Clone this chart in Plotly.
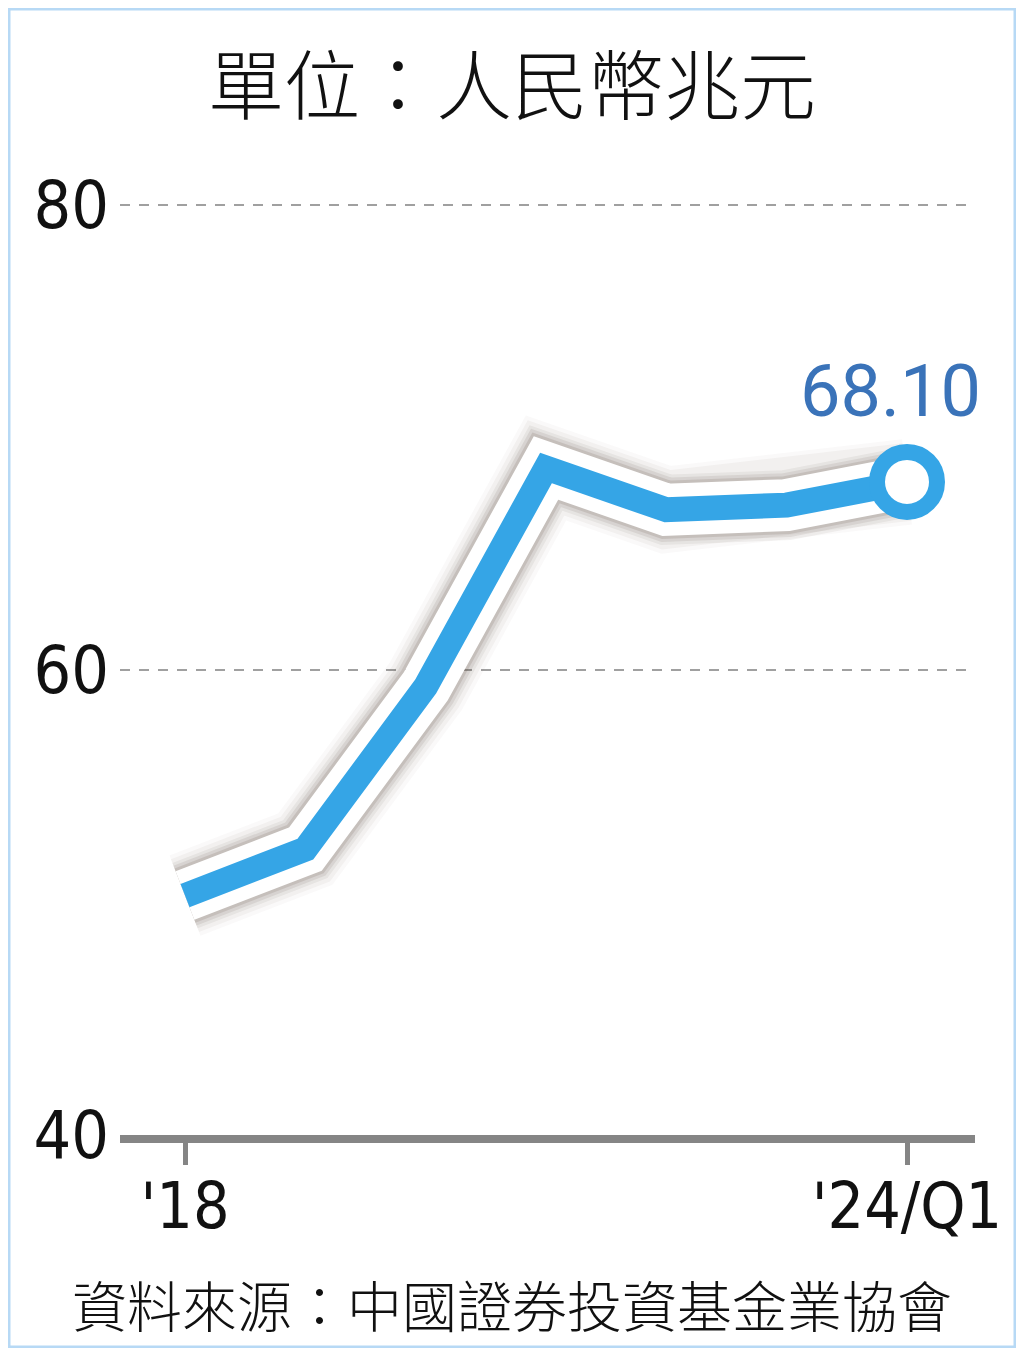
import plotly.graph_objects as go

# 中國資產管理規模（人民幣兆元）
periods = ["2018", "2019", "2020", "2021", "2022", "2023", "2024Q1"]
values = [50.3, 52.3, 59.3, 68.7, 66.9, 67.1, 68.10]
tick_text = ["'18", "'24/Q1"]

# page has an 8px body margin, so work in figure coords = reference - 8
W, H = 1008, 1340
y80, y40 = 197, 1127
px_per = (y40 - y80) / 40
top_pad = 0.1
T = round(y80 - top_pad * px_per)
B = H - y40
L = 112
R = W - 967
pw, ph = W - L - R, H - T - B

xs = list(range(len(periods)))
blue = "#35a5e6"


def py(y):
    # figure pixel row -> paper coordinate
    return (T + ph - y) / ph


def px(x):
    return (x - L) / pw


fig = go.Figure()

# soft shadow under the white outline
for w, a in [(86, 0.03), (78, 0.05), (70, 0.07), (64, 0.10), (58, 0.14)]:
    fig.add_trace(go.Scatter(x=xs, y=values, mode="lines", hoverinfo="skip",
                             line=dict(color=f"rgba(90,70,60,{a})", width=w),
                             showlegend=False))

# white outline
fig.add_trace(go.Scatter(x=xs, y=values, mode="lines", hoverinfo="skip",
                         line=dict(color="white", width=52), showlegend=False))

# main line
fig.add_trace(go.Scatter(x=xs, y=values, mode="lines",
                         line=dict(color=blue, width=25), showlegend=False))

# end point marker
fig.add_trace(go.Scatter(x=[xs[-1]], y=[values[-1]], mode="markers",
                         marker=dict(size=60, color="white",
                                     line=dict(color=blue, width=16)),
                         showlegend=False))

fig.add_annotation(x=xs[-1], y=values[-1], text=f"{values[-1]:.2f}",
                   showarrow=False, xshift=-17, yshift=90,
                   font=dict(family="Roboto, Liberation Sans", size=72, color="#3a73b9"))

# title / source
fig.add_annotation(xref="paper", yref="paper", x=px(504), y=py(73),
                   text="單位：人民幣兆元", showarrow=False, yanchor="middle",
                   font=dict(family="Noto Sans CJK TC", size=76, color="#111", weight=300))
fig.add_annotation(xref="paper", yref="paper", x=px(504), y=py(1295),
                   text="資料來源：中國證券投資基金業協會", showarrow=False, yanchor="middle",
                   font=dict(family="Noto Sans CJK TC", size=55, color="#111", weight=300))

# light blue frame
fig.add_shape(type="rect", xref="paper", yref="paper",
              x0=px(1), x1=px(W - 1), y0=py(H - 1), y1=py(1),
              line=dict(color="#b7d9f5", width=3), layer="below")

step = (899 - 177) / 6
x_lo = -(177 - L) / step
x_hi = 6 + (967 - 899) / step

digit_font = "DejaVu Sans Condensed, Liberation Sans Narrow, Liberation Sans"

fig.update_xaxes(range=[x_lo, x_hi], tickvals=[0, 6], ticktext=tick_text,
                 showgrid=False, zeroline=False,
                 showline=True, linecolor="#858585", linewidth=8,
                 ticks="outside", ticklen=22, tickwidth=5, tickcolor="#858585",
                 ticklabelstandoff=-14,
                 tickfont=dict(family=digit_font, size=64, color="#111"))
fig.update_yaxes(range=[40, 80 + top_pad], tickvals=[40, 60, 80],
                 showgrid=True, gridcolor="#a0a0a0", gridwidth=1.5, griddash="10px,9px",
                 zeroline=False, showline=False, ticks="", ticklabelstandoff=10,
                 tickfont=dict(family=digit_font, size=66, color="#111"))

fig.update_layout(width=W, height=H, margin=dict(l=L, r=R, t=T, b=B),
                  paper_bgcolor="white", plot_bgcolor="white", showlegend=False)

fig.write_html("out.html")
